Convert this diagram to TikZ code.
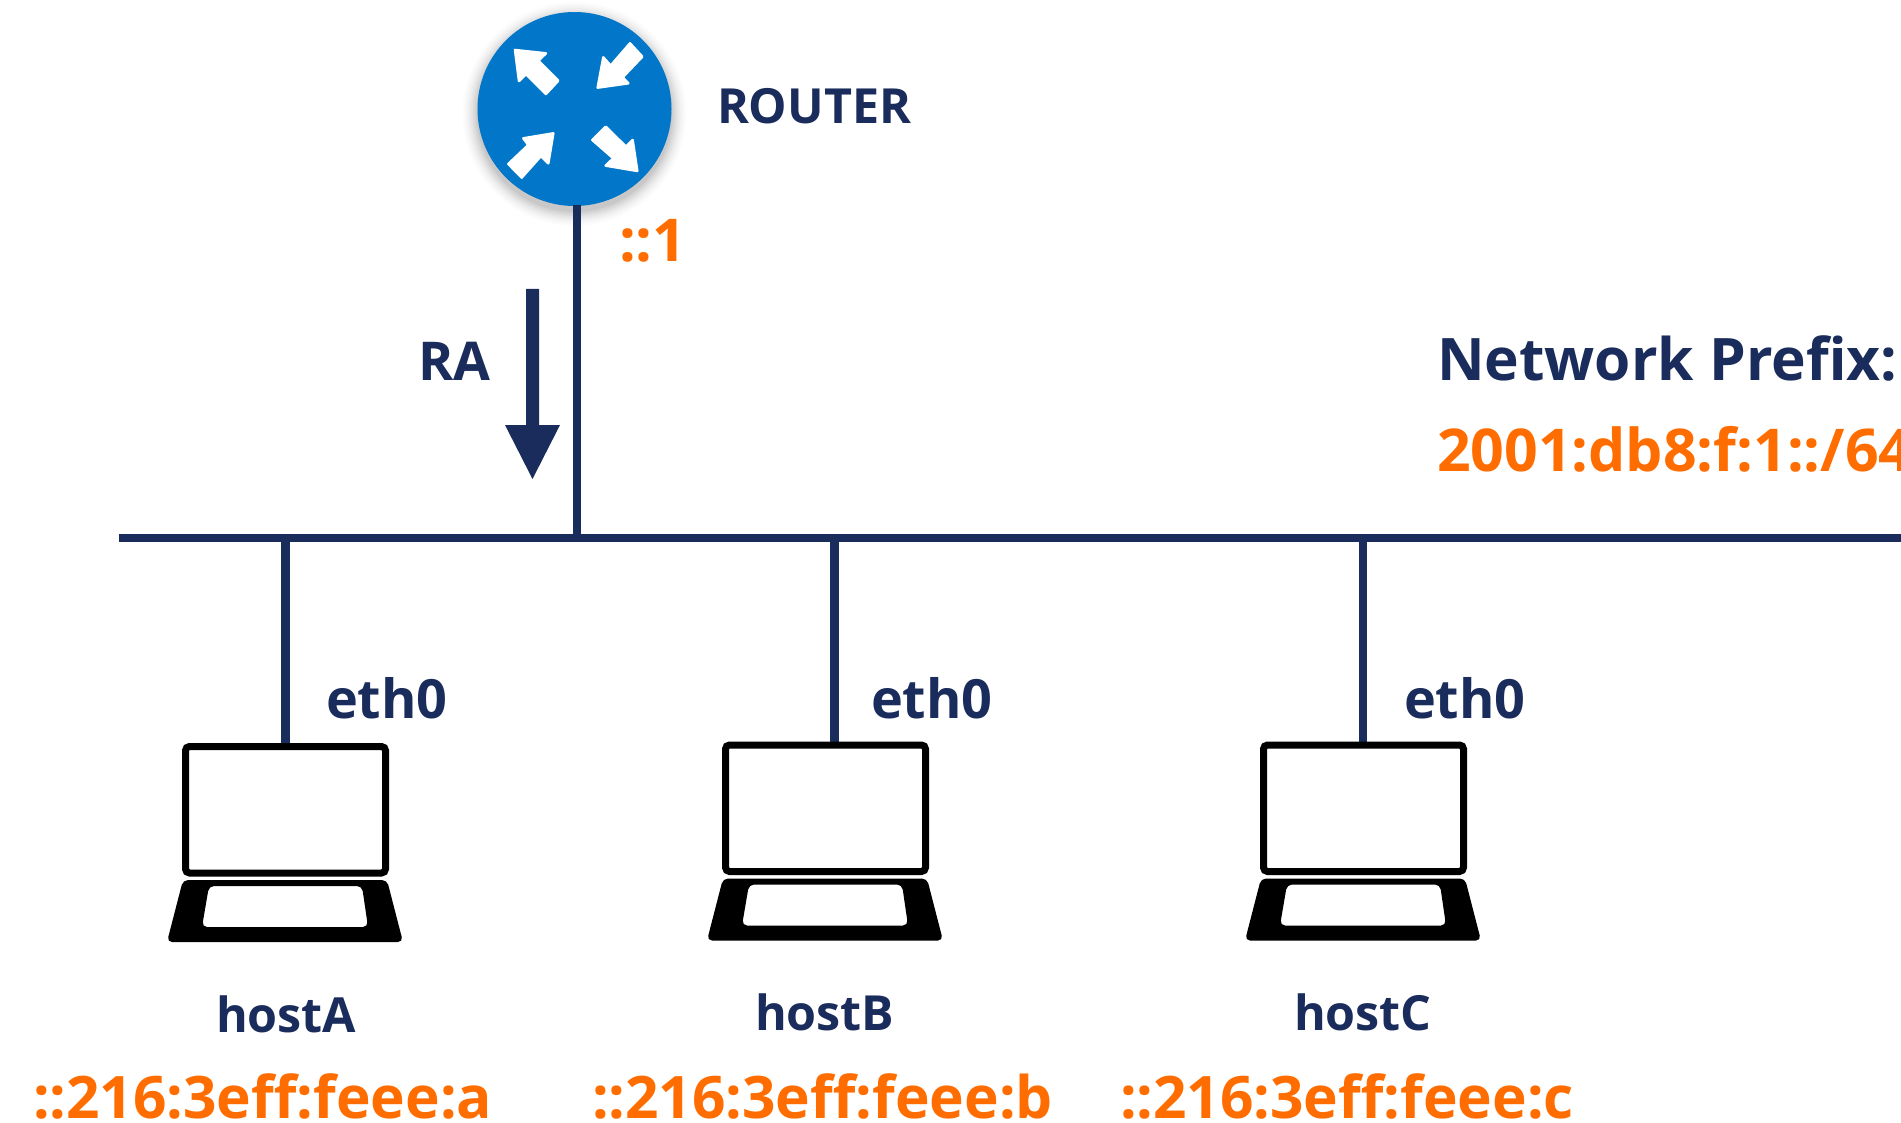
\documentclass[tikz,border=0pt]{standalone}
\usepackage{fontspec}
\setmainfont{Open Sans}[BoldFont={* Bold}]
\usetikzlibrary{calc}
\definecolor{navy}{HTML}{1A2C5B}
\definecolor{orangeT}{HTML}{FF6D00}
\definecolor{routerblue}{HTML}{0277C9}
\tikzset{
  wire/.style={draw=navy,line width=8.5pt},
  lbl/.style={anchor=base west,inner sep=0pt,outer sep=0pt,text=navy,font=\bfseries},
  addr/.style={anchor=base west,inner sep=0pt,outer sep=0pt,text=orangeT,font=\bfseries},
  arrowwhite/.style={fill=white,draw=white,line width=2.5pt,line join=round},
  pics/laptop/.style={code={
    \draw[black,line width=7pt,rounded corners=4pt,fill=white] (185.5,746.5) rectangle (385.5,873);
    \fill[black,rounded corners=5pt,even odd rule]
      (183,880) -- (387,880) -- (403,942) -- (167,942) -- cycle
      (209,886) -- (362,886) -- (368,927) -- (202,927) -- cycle;
  }}
}
\newcommand{\fs}[1]{\fontsize{#1}{#1}\selectfont}
\begin{document}
\begin{tikzpicture}[x=1pt,y=-1pt]
\useasboundingbox (0,0) rectangle (1901,1123);
\fill[white] (0,0) rectangle (1901,1123);
% router shadow
\foreach \r/\o in {112/0.012,110/0.015,108/0.02,106/0.025,104/0.03,102/0.035,100/0.04,98/0.05}
  \fill[black,opacity=\o] (574.5,114) circle (\r);
\node[circle,fill=routerblue,minimum size=194pt,inner sep=0pt,outer sep=0pt] (router) at (574.5,109) {};
\coordinate (busL) at (119,538);
\coordinate (busR) at (1901,538);
\coordinate (tapR) at (577,538);
\coordinate (tapA) at (285.5,538);
\coordinate (tapB) at (834.5,538);
\coordinate (tapC) at (1363,538);
\coordinate (hostAtop) at (285.5,745);
\coordinate (hostBtop) at (834.5,744);
\coordinate (hostCtop) at (1363,744);
\draw[wire] (busL) -- (busR);
\draw[wire] (577,205) -- (tapR);
\draw[wire] (tapA) -- (hostAtop);
\draw[wire] (tapB) -- (hostBtop);
\draw[wire] (tapC) -- (hostCtop);
% RA arrow
\fill[navy] (526,289) -- (539,289) -- (539,425) -- (560,425) -- (532.5,479) -- (505,425) -- (526,425) -- cycle;
% router arrows
\begin{scope}[shift={(440,0)},x=0.3333pt,y=-0.3333pt]
\fill[arrowwhite] (225,150) -- (318,160) -- (295,182) -- (355,242) -- (318,282) -- (258,222) -- (237,243) -- cycle;
\fill[arrowwhite] (473,263) -- (490,172) -- (512,197) -- (570,130) -- (607,170) -- (548,232) -- (565,250) -- cycle;
\fill[arrowwhite] (340,400) -- (325,490) -- (303,468) -- (245,533) -- (205,492) -- (265,435) -- (250,415) -- cycle;
\fill[arrowwhite] (592,513) -- (497,497) -- (520,475) -- (457,420) -- (497,380) -- (558,440) -- (578,420) -- cycle;
\end{scope}
% laptops
\pic at (0,0) {laptop};
\pic at (540,-1.5) {laptop};
\pic at (1078,-1.5) {laptop};
% labels
\node[lbl,font=\bfseries\fs{48.4}] (routerL) at (717,124) {ROUTER};
\node[addr,font=\bfseries\fs{59}] (one) at (619,262) {::1};
\node[lbl,font=\bfseries\fs{53.5}] (ra) at (418,381) {RA};
\node[lbl,font=\bfseries\fs{58.6}] (net) at (1437,380) {Network Prefix:};
\node[addr,font=\bfseries\fs{59}] (pref) at (1437,471) {2001:db8:f:1::/64};
\node[lbl,font=\bfseries\fs{54}] (ethA) at (326,718) {eth0};
\node[lbl,font=\bfseries\fs{54}] (ethB) at (871,718) {eth0};
\node[lbl,font=\bfseries\fs{54}] (ethC) at (1404,718) {eth0};
\node[lbl,font=\bfseries\fs{48.4}] (hA) at (216,1032) {hostA};
\node[lbl,font=\bfseries\fs{48.4}] (hB) at (755,1030) {hostB};
\node[lbl,font=\bfseries\fs{48.4}] (hC) at (1294,1030) {hostC};
\node[addr,font=\bfseries\fs{58.6}] (aA) at (33,1118) {::216:3eff:feee:a};
\node[addr,font=\bfseries\fs{58.6}] (aB) at (592,1118) {::216:3eff:feee:b};
\node[addr,font=\bfseries\fs{58.6}] (aC) at (1120,1118) {::216:3eff:feee:c};
\end{tikzpicture}
\end{document}
